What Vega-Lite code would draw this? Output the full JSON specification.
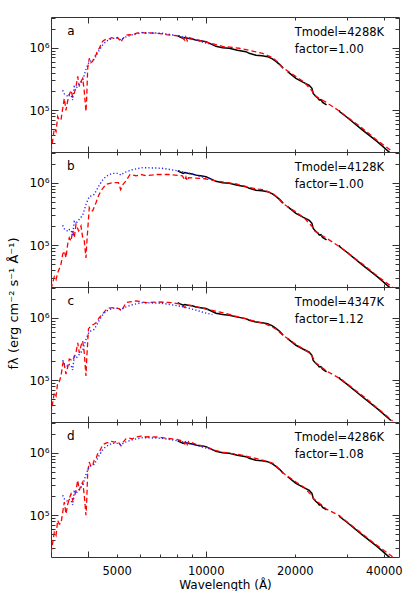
{
"$schema": "https://vega.github.io/schema/vega-lite/v6.json",
"background": "white",
"padding": {"left": 8, "top": 16, "right": 15, "bottom": 0},
"autosize": {"type": "pad"},
"spacing": 0,
"bounds": "flush",
"title": {"text": "fλ (erg cm⁻² s⁻¹ Å⁻¹)", "orient": "left", "anchor": "middle", "font": "DejaVu Sans", "fontSize": 13, "fontWeight": "normal", "offset": 7, "color": "#000"},
"config": {
  "view": {"stroke": "#333", "strokeWidth": 1},
  "axis": {"domain": false, "grid": false, "tickColor": "#333", "tickWidth": 1, "labelFont": "DejaVu Sans", "labelFontSize": 12, "labelColor": "#000", "titleFont": "DejaVu Sans", "titleFontSize": 12, "titleFontWeight": "normal", "titleColor": "#000"},
  "text": {"font": "DejaVu Sans", "color": "#000"}
},
"datasets": {
"info": [{"p":"a","T":"Tmodel=4288K","F":"factor=1.00"},{"p":"b","T":"Tmodel=4128K","F":"factor=1.00"},{"p":"c","T":"Tmodel=4347K","F":"factor=1.12"},{"p":"d","T":"Tmodel=4286K","F":"factor=1.08"}],
"opt": [{"w":3286,"f":209000},{"w":3330,"f":182000},{"w":3371,"f":176000},{"w":3420,"f":166000},{"w":3460,"f":178000},{"w":3505,"f":176000},{"w":3550,"f":146000},{"w":3596,"f":240000},{"w":3650,"f":229000},{"w":3693,"f":240000},{"w":3760,"f":269000},{"w":3839,"f":302000},{"w":3938,"f":450000},{"w":4041,"f":603000},{"w":4120,"f":617000},{"w":4200,"f":650000},{"w":4368,"f":912000},{"w":4480,"f":1100000},{"w":4600,"f":1260000},{"w":4830,"f":1410000},{"w":5070,"f":1410000},{"w":5170,"f":1320000},{"w":5300,"f":1450000},{"w":5670,"f":1620000},{"w":6130,"f":1740000},{"w":6600,"f":1720000},{"w":7110,"f":1700000},{"w":7600,"f":1620000},{"w":8040,"f":1550000},{"w":8600,"f":1450000},{"w":9270,"f":1320000},{"w":9900,"f":1200000},{"w":10530,"f":1120000}],
"ir": [{"w":8040,"f":1550000,"g":1},{"w":8200,"f":1480000,"g":1},{"w":8400,"f":1410000,"g":1},{"w":8500,"f":1450000,"g":1},{"w":8700,"f":1410000,"g":1},{"w":9000,"f":1380000,"g":1},{"w":9270,"f":1320000,"g":1},{"w":9600,"f":1290000,"g":1},{"w":10017,"f":1250000,"g":1},{"w":10400,"f":1150000,"g":1},{"w":10830,"f":1050000,"g":1},{"w":11400,"f":1000000,"g":1},{"w":12010,"f":977000,"g":1},{"w":12800,"f":912000,"g":1},{"w":13676,"f":863000,"g":1},{"w":14030,"f":813000,"g":1},{"w":14785,"f":759000,"g":1},{"w":15500,"f":741000,"g":1},{"w":16190,"f":718000,"g":1},{"w":16800,"f":661000,"g":1},{"w":17270,"f":603000,"g":1},{"w":17800,"f":537000,"g":1},{"w":18280,"f":468000,"g":1},
{"w":18920,"f":414000,"g":2},{"w":20180,"f":324000,"g":2},{"w":21300,"f":282000,"g":2},{"w":22380,"f":251000,"g":2},{"w":22850,"f":224000,"g":2},{"w":23080,"f":186000,"g":2},{"w":23570,"f":166000,"g":2},{"w":23900,"f":158000,"g":2},{"w":24190,"f":146000,"g":2},{"w":24500,"f":148000,"g":2},{"w":24830,"f":134000,"g":2},{"w":25610,"f":122000,"g":2},
{"w":28260,"f":100000,"g":3},{"w":28400,"f":94400,"g":3},{"w":30000,"f":77600,"g":3},{"w":33900,"f":48400,"g":3},{"w":38000,"f":31600,"g":3},{"w":42250,"f":20400,"g":3}],
"ir_c": [{"w":8040,"f":1736000,"g":1},{"w":8200,"f":1658000,"g":1},{"w":8400,"f":1579000,"g":1},{"w":8500,"f":1624000,"g":1},{"w":8700,"f":1579000,"g":1},{"w":9000,"f":1546000,"g":1},{"w":9270,"f":1478000,"g":1},{"w":9600,"f":1445000,"g":1},{"w":10017,"f":1400000,"g":1},{"w":10400,"f":1288000,"g":1},{"w":10830,"f":1176000,"g":1},{"w":11400,"f":1120000,"g":1},{"w":12010,"f":1094000,"g":1},{"w":12800,"f":1021000,"g":1},{"w":13676,"f":967000,"g":1},{"w":14030,"f":911000,"g":1},{"w":14785,"f":850000,"g":1},{"w":15500,"f":830000,"g":1},{"w":16190,"f":804000,"g":1},{"w":16800,"f":740000,"g":1},{"w":17270,"f":675000,"g":1},{"w":17800,"f":601000,"g":1},{"w":18280,"f":524000,"g":1},
{"w":18920,"f":464000,"g":2},{"w":20180,"f":363000,"g":2},{"w":21300,"f":316000,"g":2},{"w":22380,"f":281000,"g":2},{"w":22850,"f":251000,"g":2},{"w":23080,"f":208000,"g":2},{"w":23570,"f":186000,"g":2},{"w":23900,"f":177000,"g":2},{"w":24190,"f":164000,"g":2},{"w":24500,"f":166000,"g":2},{"w":24830,"f":150000,"g":2},{"w":25610,"f":137000,"g":2},
{"w":28260,"f":112000,"g":3},{"w":28400,"f":105700,"g":3},{"w":30000,"f":86900,"g":3},{"w":33900,"f":54200,"g":3},{"w":38000,"f":35400,"g":3},{"w":42250,"f":22800,"g":3}],
"model_a": [{"w":3000,"f":21900},{"w":3040,"f":33100},{"w":3078,"f":51300},{"w":3120,"f":45700},{"w":3160,"f":79400},{"w":3200,"f":69200},{"w":3243,"f":70800},{"w":3286,"f":107000},{"w":3327,"f":155000},{"w":3371,"f":100000},{"w":3415,"f":141000},{"w":3459,"f":178000},{"w":3505,"f":209000},{"w":3550,"f":166000},{"w":3596,"f":186000},{"w":3644,"f":240000},{"w":3693,"f":347000},{"w":3739,"f":240000},{"w":3788,"f":288000},{"w":3839,"f":324000},{"w":3887,"f":200000},{"w":3938,"f":95500},{"w":3960,"f":155000},{"w":3991,"f":468000},{"w":4041,"f":676000},{"w":4090,"f":575000},{"w":4149,"f":603000},{"w":4200,"f":724000},{"w":4257,"f":759000},{"w":4310,"f":912000},{"w":4368,"f":977000},{"w":4426,"f":1120000},{"w":4480,"f":1260000},{"w":4541,"f":1320000},{"w":4640,"f":1380000},{"w":4721,"f":1380000},{"w":4800,"f":1450000},{"w":4909,"f":1410000},{"w":5041,"f":1450000},{"w":5120,"f":1320000},{"w":5172,"f":1230000},{"w":5241,"f":1380000},{"w":5377,"f":1580000},{"w":5517,"f":1620000},{"w":5650,"f":1580000},{"w":5811,"f":1700000},{"w":6042,"f":1760000},{"w":6282,"f":1700000},{"w":6500,"f":1720000},{"w":6790,"f":1700000},{"w":7100,"f":1660000},{"w":7340,"f":1620000},{"w":7700,"f":1580000},{"w":8040,"f":1550000},{"w":8300,"f":1480000},{"w":8500,"f":1320000},{"w":8560,"f":1480000},{"w":8660,"f":1290000},{"w":8750,"f":1450000},{"w":9270,"f":1350000},{"w":10017,"f":1230000},{"w":10830,"f":1120000},{"w":11409,"f":1050000},{"w":12985,"f":980000},{"w":14000,"f":910000},{"w":15574,"f":810000},{"w":16832,"f":690000},{"w":17500,"f":590000},{"w":18190,"f":480000},{"w":20180,"f":347000},{"w":21500,"f":282000},{"w":22975,"f":200000},{"w":23200,"f":178000},{"w":24000,"f":158000},{"w":25480,"f":135000},{"w":28260,"f":97700},{"w":33900,"f":51300},{"w":38000,"f":33100},{"w":42800,"f":21900}],
"model_b": [{"w":3000,"f":20000},{"w":3040,"f":25100},{"w":3078,"f":31600},{"w":3120,"f":28200},{"w":3160,"f":36300},{"w":3243,"f":50100},{"w":3286,"f":72400},{"w":3330,"f":81300},{"w":3371,"f":63100},{"w":3415,"f":104000},{"w":3459,"f":132000},{"w":3505,"f":117000},{"w":3550,"f":170000},{"w":3596,"f":132000},{"w":3644,"f":216000},{"w":3720,"f":170000},{"w":3788,"f":204000},{"w":3839,"f":132000},{"w":3887,"f":117000},{"w":3938,"f":63100},{"w":3968,"f":117000},{"w":4041,"f":398000},{"w":4090,"f":355000},{"w":4149,"f":355000},{"w":4257,"f":479000},{"w":4350,"f":631000},{"w":4426,"f":741000},{"w":4600,"f":944000},{"w":4830,"f":1000000},{"w":5070,"f":1000000},{"w":5160,"f":776000},{"w":5250,"f":933000},{"w":5377,"f":1070000},{"w":5550,"f":1350000},{"w":5811,"f":1290000},{"w":6042,"f":1350000},{"w":6282,"f":1290000},{"w":6790,"f":1350000},{"w":7520,"f":1350000},{"w":8340,"f":1290000},{"w":8500,"f":1100000},{"w":8575,"f":1230000},{"w":8660,"f":1070000},{"w":8750,"f":1200000},{"w":9770,"f":1170000},{"w":10830,"f":1070000},{"w":12670,"f":955000},{"w":14785,"f":794000},{"w":15574,"f":776000},{"w":16832,"f":676000},{"w":17500,"f":575000},{"w":18190,"f":468000},{"w":20180,"f":339000},{"w":21500,"f":275000},{"w":22975,"f":195000},{"w":23200,"f":174000},{"w":24000,"f":155000},{"w":25480,"f":132000},{"w":28260,"f":95500},{"w":33900,"f":50100},{"w":38000,"f":32400},{"w":42800,"f":21400}],
"model_c": [{"w":3000,"f":28800},{"w":3040,"f":43700},{"w":3078,"f":63100},{"w":3120,"f":56200},{"w":3160,"f":91200},{"w":3200,"f":95500},{"w":3243,"f":117000},{"w":3286,"f":182000},{"w":3310,"f":204000},{"w":3371,"f":126000},{"w":3420,"f":166000},{"w":3459,"f":219000},{"w":3550,"f":204000},{"w":3644,"f":275000},{"w":3693,"f":398000},{"w":3739,"f":275000},{"w":3788,"f":355000},{"w":3839,"f":427000},{"w":3887,"f":275000},{"w":3938,"f":117000},{"w":3960,"f":214000},{"w":4015,"f":661000},{"w":4095,"f":741000},{"w":4200,"f":794000},{"w":4257,"f":832000},{"w":4368,"f":1000000},{"w":4480,"f":1150000},{"w":4654,"f":1410000},{"w":4909,"f":1450000},{"w":5110,"f":1380000},{"w":5200,"f":1290000},{"w":5377,"f":1740000},{"w":5811,"f":1860000},{"w":6282,"f":1740000},{"w":6940,"f":1780000},{"w":7690,"f":1740000},{"w":8130,"f":1660000},{"w":8500,"f":1450000},{"w":8600,"f":1620000},{"w":9000,"f":1550000},{"w":10017,"f":1370000},{"w":11400,"f":1200000},{"w":13676,"f":960000},{"w":15980,"f":790000},{"w":17270,"f":660000},{"w":18190,"f":530000},{"w":20180,"f":375000},{"w":22380,"f":275000},{"w":22975,"f":235000},{"w":23500,"f":190000},{"w":25800,"f":138000},{"w":28700,"f":104000},{"w":34780,"f":51500},{"w":42800,"f":22500}],
"model_d": [{"w":3000,"f":25100},{"w":3040,"f":36300},{"w":3078,"f":53700},{"w":3120,"f":47900},{"w":3160,"f":83200},{"w":3200,"f":72400},{"w":3243,"f":74100},{"w":3286,"f":112000},{"w":3327,"f":162000},{"w":3371,"f":105000},{"w":3415,"f":148000},{"w":3459,"f":186000},{"w":3505,"f":219000},{"w":3550,"f":174000},{"w":3596,"f":195000},{"w":3644,"f":251000},{"w":3693,"f":363000},{"w":3739,"f":251000},{"w":3788,"f":302000},{"w":3839,"f":339000},{"w":3887,"f":209000},{"w":3938,"f":100000},{"w":3960,"f":162000},{"w":3991,"f":490000},{"w":4041,"f":708000},{"w":4090,"f":603000},{"w":4149,"f":631000},{"w":4200,"f":759000},{"w":4257,"f":794000},{"w":4310,"f":955000},{"w":4368,"f":1020000},{"w":4426,"f":1170000},{"w":4480,"f":1320000},{"w":4541,"f":1380000},{"w":4640,"f":1450000},{"w":4721,"f":1450000},{"w":4800,"f":1510000},{"w":4909,"f":1480000},{"w":5041,"f":1510000},{"w":5120,"f":1380000},{"w":5172,"f":1290000},{"w":5241,"f":1450000},{"w":5377,"f":1660000},{"w":5517,"f":1700000},{"w":5650,"f":1660000},{"w":5811,"f":1780000},{"w":6042,"f":1840000},{"w":6282,"f":1780000},{"w":6500,"f":1800000},{"w":6790,"f":1780000},{"w":7100,"f":1740000},{"w":7340,"f":1700000},{"w":7700,"f":1660000},{"w":8040,"f":1620000},{"w":8300,"f":1550000},{"w":8500,"f":1380000},{"w":8560,"f":1550000},{"w":8660,"f":1350000},{"w":8750,"f":1510000},{"w":9270,"f":1360000},{"w":10017,"f":1240000},{"w":10830,"f":1080000},{"w":11409,"f":1020000},{"w":12985,"f":930000},{"w":14000,"f":860000},{"w":15574,"f":760000},{"w":16832,"f":680000},{"w":17500,"f":580000},{"w":18190,"f":480000},{"w":20180,"f":340000},{"w":21500,"f":280000},{"w":22975,"f":200000},{"w":23200,"f":182000},{"w":24000,"f":162000},{"w":25480,"f":127000},{"w":28260,"f":99000},{"w":33900,"f":50000},{"w":38000,"f":32800},{"w":42800,"f":21800}]
},
"vconcat": [
{"width":348,"height":135,
"layer":[
{"data":{"name":"ir"},"mark":{"type":"line","color":"#000000","strokeWidth":1.5,"clip":true},"encoding":{"x":{"field":"w","type":"quantitative","scale":{"type":"log","domain":[3000,45000],"nice":false},"axis":{"orient":"bottom","values":[5000,10000,20000,40000],"tickSize":-3,"labels":false,"title":null}},"y":{"field":"f","type":"quantitative","scale":{"type":"log","domain":[21600,3090000],"nice":false},"axis":{"orient":"left","values":[100000,1000000],"tickSize":-7,"labelPadding":9,"labelOverlap":false,"labelExpr":"datum.value==100000?'10⁵':'10⁶'","title":null}},"detail":{"field":"g","type":"nominal"}}},
{"data":{"name":"model_a"},"mark":{"type":"line","color":"#ff0000","strokeWidth":1.3,"strokeDash":[5,3],"clip":true},"encoding":{"x":{"field":"w","type":"quantitative","scale":{"type":"log","domain":[3000,45000],"nice":false},"axis":{"orient":"top","values":[4000,5000,6000,7000,8000,9000,10000,20000,30000,40000],"tickSize":{"condition":{"test":"datum.value==4000||datum.value==10000","value":-6},"value":-3},"labels":false,"title":null}},"y":{"field":"f","type":"quantitative","scale":{"type":"log","domain":[21600,3090000],"nice":false},"axis":{"orient":"right","values":[30000,40000,50000,60000,70000,80000,90000,100000,200000,300000,400000,500000,600000,700000,800000,900000,1000000,2000000,3000000],"tickSize":{"condition":{"test":"datum.value==100000||datum.value==1000000","value":-7},"value":-4},"labels":false,"title":null}}}},
{"data":{"name":"opt"},"mark":{"type":"line","color":"#2222ff","strokeWidth":1.4,"strokeDash":[1.2,2.2],"clip":true},"encoding":{"x":{"field":"w","type":"quantitative","scale":{"type":"log","domain":[3000,45000],"nice":false},"axis":{"orient":"bottom","values":[4000,6000,7000,8000,9000,10000,30000],"tickSize":{"condition":{"test":"datum.value==4000||datum.value==10000","value":-6},"value":-3},"labels":false,"title":null}},"y":{"field":"f","type":"quantitative","scale":{"type":"log","domain":[21600,3090000],"nice":false},"axis":{"orient":"left","values":[30000,40000,50000,60000,70000,80000,90000,200000,300000,400000,500000,600000,700000,800000,900000,2000000,3000000],"tickSize":-4,"labels":false,"title":null}}}},
{"data":{"name":"info"},"transform":[{"filter":"datum.p=='a'"}],"mark":{"type":"text","align":"center","baseline":"middle","fontSize":12},"encoding":{"x":{"datum":3500,"type":"quantitative","scale":{"type":"log","domain":[3000,45000],"nice":false},"axis":null},"y":{"datum":1850000,"type":"quantitative","scale":{"type":"log","domain":[21600,3090000],"nice":false},"axis":null},"text":{"field":"p","type":"nominal"}}},
{"data":{"name":"info"},"transform":[{"filter":"datum.p=='a'"}],"mark":{"type":"text","align":"left","baseline":"middle","fontSize":11.5},"encoding":{"x":{"datum":20000,"type":"quantitative","scale":{"type":"log","domain":[3000,45000],"nice":false},"axis":null},"y":{"datum":1710000,"type":"quantitative","scale":{"type":"log","domain":[21600,3090000],"nice":false},"axis":null},"text":{"field":"T","type":"nominal"}}},
{"data":{"name":"info"},"transform":[{"filter":"datum.p=='a'"}],"mark":{"type":"text","align":"left","baseline":"middle","fontSize":11.5},"encoding":{"x":{"datum":20000,"type":"quantitative","scale":{"type":"log","domain":[3000,45000],"nice":false},"axis":null},"y":{"datum":920000,"type":"quantitative","scale":{"type":"log","domain":[21600,3090000],"nice":false},"axis":null},"text":{"field":"F","type":"nominal"}}}
],
"resolve":{"axis":{"x":"independent","y":"independent"}}},
{"width":348,"height":135,
"layer":[
{"data":{"name":"ir"},"mark":{"type":"line","color":"#000000","strokeWidth":1.5,"clip":true},"encoding":{"x":{"field":"w","type":"quantitative","scale":{"type":"log","domain":[3000,45000],"nice":false},"axis":{"orient":"bottom","values":[5000,10000,20000,40000],"tickSize":-3,"labels":false,"title":null}},"y":{"field":"f","type":"quantitative","scale":{"type":"log","domain":[21600,3090000],"nice":false},"axis":{"orient":"left","values":[100000,1000000],"tickSize":-7,"labelPadding":9,"labelOverlap":false,"labelExpr":"datum.value==100000?'10⁵':'10⁶'","title":null}},"detail":{"field":"g","type":"nominal"}}},
{"data":{"name":"model_b"},"mark":{"type":"line","color":"#ff0000","strokeWidth":1.3,"strokeDash":[5,3],"clip":true},"encoding":{"x":{"field":"w","type":"quantitative","scale":{"type":"log","domain":[3000,45000],"nice":false},"axis":{"orient":"top","values":[4000,5000,6000,7000,8000,9000,10000,20000,30000,40000],"tickSize":{"condition":{"test":"datum.value==4000||datum.value==10000","value":-6},"value":-3},"labels":false,"title":null}},"y":{"field":"f","type":"quantitative","scale":{"type":"log","domain":[21600,3090000],"nice":false},"axis":{"orient":"right","values":[30000,40000,50000,60000,70000,80000,90000,100000,200000,300000,400000,500000,600000,700000,800000,900000,1000000,2000000,3000000],"tickSize":{"condition":{"test":"datum.value==100000||datum.value==1000000","value":-7},"value":-4},"labels":false,"title":null}}}},
{"data":{"name":"opt"},"mark":{"type":"line","color":"#2222ff","strokeWidth":1.4,"strokeDash":[1.2,2.2],"clip":true},"encoding":{"x":{"field":"w","type":"quantitative","scale":{"type":"log","domain":[3000,45000],"nice":false},"axis":{"orient":"bottom","values":[4000,6000,7000,8000,9000,10000,30000],"tickSize":{"condition":{"test":"datum.value==4000||datum.value==10000","value":-6},"value":-3},"labels":false,"title":null}},"y":{"field":"f","type":"quantitative","scale":{"type":"log","domain":[21600,3090000],"nice":false},"axis":{"orient":"left","values":[30000,40000,50000,60000,70000,80000,90000,200000,300000,400000,500000,600000,700000,800000,900000,2000000,3000000],"tickSize":-4,"labels":false,"title":null}}}},
{"data":{"name":"info"},"transform":[{"filter":"datum.p=='b'"}],"mark":{"type":"text","align":"center","baseline":"middle","fontSize":12},"encoding":{"x":{"datum":3500,"type":"quantitative","scale":{"type":"log","domain":[3000,45000],"nice":false},"axis":null},"y":{"datum":1850000,"type":"quantitative","scale":{"type":"log","domain":[21600,3090000],"nice":false},"axis":null},"text":{"field":"p","type":"nominal"}}},
{"data":{"name":"info"},"transform":[{"filter":"datum.p=='b'"}],"mark":{"type":"text","align":"left","baseline":"middle","fontSize":11.5},"encoding":{"x":{"datum":20000,"type":"quantitative","scale":{"type":"log","domain":[3000,45000],"nice":false},"axis":null},"y":{"datum":1710000,"type":"quantitative","scale":{"type":"log","domain":[21600,3090000],"nice":false},"axis":null},"text":{"field":"T","type":"nominal"}}},
{"data":{"name":"info"},"transform":[{"filter":"datum.p=='b'"}],"mark":{"type":"text","align":"left","baseline":"middle","fontSize":11.5},"encoding":{"x":{"datum":20000,"type":"quantitative","scale":{"type":"log","domain":[3000,45000],"nice":false},"axis":null},"y":{"datum":920000,"type":"quantitative","scale":{"type":"log","domain":[21600,3090000],"nice":false},"axis":null},"text":{"field":"F","type":"nominal"}}}
],
"resolve":{"axis":{"x":"independent","y":"independent"}}},
{"width":348,"height":135,
"layer":[
{"data":{"name":"ir_c"},"mark":{"type":"line","color":"#000000","strokeWidth":1.5,"clip":true},"encoding":{"x":{"field":"w","type":"quantitative","scale":{"type":"log","domain":[3000,45000],"nice":false},"axis":{"orient":"bottom","values":[5000,10000,20000,40000],"tickSize":-3,"labels":false,"title":null}},"y":{"field":"f","type":"quantitative","scale":{"type":"log","domain":[21600,3090000],"nice":false},"axis":{"orient":"left","values":[100000,1000000],"tickSize":-7,"labelPadding":9,"labelOverlap":false,"labelExpr":"datum.value==100000?'10⁵':'10⁶'","title":null}},"detail":{"field":"g","type":"nominal"}}},
{"data":{"name":"model_c"},"mark":{"type":"line","color":"#ff0000","strokeWidth":1.3,"strokeDash":[5,3],"clip":true},"encoding":{"x":{"field":"w","type":"quantitative","scale":{"type":"log","domain":[3000,45000],"nice":false},"axis":{"orient":"top","values":[4000,5000,6000,7000,8000,9000,10000,20000,30000,40000],"tickSize":{"condition":{"test":"datum.value==4000||datum.value==10000","value":-6},"value":-3},"labels":false,"title":null}},"y":{"field":"f","type":"quantitative","scale":{"type":"log","domain":[21600,3090000],"nice":false},"axis":{"orient":"right","values":[30000,40000,50000,60000,70000,80000,90000,100000,200000,300000,400000,500000,600000,700000,800000,900000,1000000,2000000,3000000],"tickSize":{"condition":{"test":"datum.value==100000||datum.value==1000000","value":-7},"value":-4},"labels":false,"title":null}}}},
{"data":{"name":"opt"},"mark":{"type":"line","color":"#2222ff","strokeWidth":1.4,"strokeDash":[1.2,2.2],"clip":true},"encoding":{"x":{"field":"w","type":"quantitative","scale":{"type":"log","domain":[3000,45000],"nice":false},"axis":{"orient":"bottom","values":[4000,6000,7000,8000,9000,10000,30000],"tickSize":{"condition":{"test":"datum.value==4000||datum.value==10000","value":-6},"value":-3},"labels":false,"title":null}},"y":{"field":"f","type":"quantitative","scale":{"type":"log","domain":[21600,3090000],"nice":false},"axis":{"orient":"left","values":[30000,40000,50000,60000,70000,80000,90000,200000,300000,400000,500000,600000,700000,800000,900000,2000000,3000000],"tickSize":-4,"labels":false,"title":null}}}},
{"data":{"name":"info"},"transform":[{"filter":"datum.p=='c'"}],"mark":{"type":"text","align":"center","baseline":"middle","fontSize":12},"encoding":{"x":{"datum":3500,"type":"quantitative","scale":{"type":"log","domain":[3000,45000],"nice":false},"axis":null},"y":{"datum":1850000,"type":"quantitative","scale":{"type":"log","domain":[21600,3090000],"nice":false},"axis":null},"text":{"field":"p","type":"nominal"}}},
{"data":{"name":"info"},"transform":[{"filter":"datum.p=='c'"}],"mark":{"type":"text","align":"left","baseline":"middle","fontSize":11.5},"encoding":{"x":{"datum":20000,"type":"quantitative","scale":{"type":"log","domain":[3000,45000],"nice":false},"axis":null},"y":{"datum":1710000,"type":"quantitative","scale":{"type":"log","domain":[21600,3090000],"nice":false},"axis":null},"text":{"field":"T","type":"nominal"}}},
{"data":{"name":"info"},"transform":[{"filter":"datum.p=='c'"}],"mark":{"type":"text","align":"left","baseline":"middle","fontSize":11.5},"encoding":{"x":{"datum":20000,"type":"quantitative","scale":{"type":"log","domain":[3000,45000],"nice":false},"axis":null},"y":{"datum":920000,"type":"quantitative","scale":{"type":"log","domain":[21600,3090000],"nice":false},"axis":null},"text":{"field":"F","type":"nominal"}}}
],
"resolve":{"axis":{"x":"independent","y":"independent"}}},
{"width":348,"height":135,
"layer":[
{"data":{"name":"ir"},"mark":{"type":"line","color":"#000000","strokeWidth":1.5,"clip":true},"encoding":{"x":{"field":"w","type":"quantitative","scale":{"type":"log","domain":[3000,45000],"nice":false},"axis":{"orient":"bottom","values":[5000,10000,20000,40000],"tickSize":-3,"labels":true,"labelFontSize":11.5,"labelPadding":11,"labelOverlap":false,"labelFlush":false,"labelExpr":"format(datum.value,'d')","title":"Wavelength (Å)","titlePadding":3}},"y":{"field":"f","type":"quantitative","scale":{"type":"log","domain":[21600,3090000],"nice":false},"axis":{"orient":"left","values":[100000,1000000],"tickSize":-7,"labelPadding":9,"labelOverlap":false,"labelExpr":"datum.value==100000?'10⁵':'10⁶'","title":null}},"detail":{"field":"g","type":"nominal"}}},
{"data":{"name":"model_d"},"mark":{"type":"line","color":"#ff0000","strokeWidth":1.3,"strokeDash":[5,3],"clip":true},"encoding":{"x":{"field":"w","type":"quantitative","scale":{"type":"log","domain":[3000,45000],"nice":false},"axis":{"orient":"top","values":[4000,5000,6000,7000,8000,9000,10000,20000,30000,40000],"tickSize":{"condition":{"test":"datum.value==4000||datum.value==10000","value":-6},"value":-3},"labels":false,"title":null}},"y":{"field":"f","type":"quantitative","scale":{"type":"log","domain":[21600,3090000],"nice":false},"axis":{"orient":"right","values":[30000,40000,50000,60000,70000,80000,90000,100000,200000,300000,400000,500000,600000,700000,800000,900000,1000000,2000000,3000000],"tickSize":{"condition":{"test":"datum.value==100000||datum.value==1000000","value":-7},"value":-4},"labels":false,"title":null}}}},
{"data":{"name":"opt"},"mark":{"type":"line","color":"#2222ff","strokeWidth":1.4,"strokeDash":[1.2,2.2],"clip":true},"encoding":{"x":{"field":"w","type":"quantitative","scale":{"type":"log","domain":[3000,45000],"nice":false},"axis":{"orient":"bottom","values":[4000,6000,7000,8000,9000,10000,30000],"tickSize":{"condition":{"test":"datum.value==4000||datum.value==10000","value":-6},"value":-3},"labels":false,"title":null}},"y":{"field":"f","type":"quantitative","scale":{"type":"log","domain":[21600,3090000],"nice":false},"axis":{"orient":"left","values":[30000,40000,50000,60000,70000,80000,90000,200000,300000,400000,500000,600000,700000,800000,900000,2000000,3000000],"tickSize":-4,"labels":false,"title":null}}}},
{"data":{"name":"info"},"transform":[{"filter":"datum.p=='d'"}],"mark":{"type":"text","align":"center","baseline":"middle","fontSize":12},"encoding":{"x":{"datum":3500,"type":"quantitative","scale":{"type":"log","domain":[3000,45000],"nice":false},"axis":null},"y":{"datum":1850000,"type":"quantitative","scale":{"type":"log","domain":[21600,3090000],"nice":false},"axis":null},"text":{"field":"p","type":"nominal"}}},
{"data":{"name":"info"},"transform":[{"filter":"datum.p=='d'"}],"mark":{"type":"text","align":"left","baseline":"middle","fontSize":11.5},"encoding":{"x":{"datum":20000,"type":"quantitative","scale":{"type":"log","domain":[3000,45000],"nice":false},"axis":null},"y":{"datum":1710000,"type":"quantitative","scale":{"type":"log","domain":[21600,3090000],"nice":false},"axis":null},"text":{"field":"T","type":"nominal"}}},
{"data":{"name":"info"},"transform":[{"filter":"datum.p=='d'"}],"mark":{"type":"text","align":"left","baseline":"middle","fontSize":11.5},"encoding":{"x":{"datum":20000,"type":"quantitative","scale":{"type":"log","domain":[3000,45000],"nice":false},"axis":null},"y":{"datum":920000,"type":"quantitative","scale":{"type":"log","domain":[21600,3090000],"nice":false},"axis":null},"text":{"field":"F","type":"nominal"}}}
],
"resolve":{"axis":{"x":"independent","y":"independent"}}}
]
}
